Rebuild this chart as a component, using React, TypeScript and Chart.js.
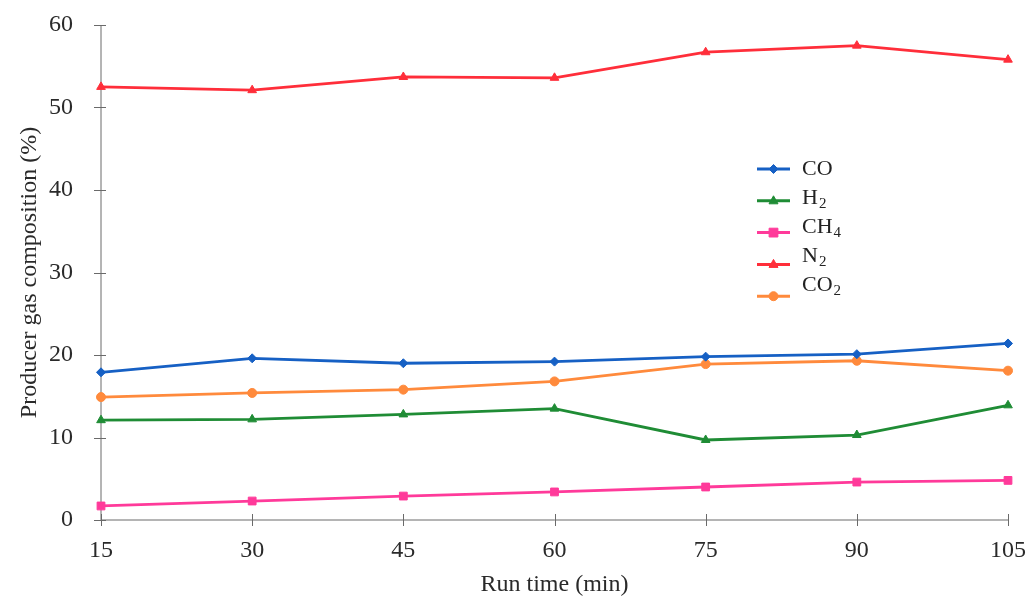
import React, { useEffect, useRef } from "react";
import { Chart, registerables } from "chart.js";

Chart.register(...registerables);

const runTimes = ["15", "30", "45", "60", "75", "90", "105"];
const coValues = [17.9, 19.6, 19.0, 19.2, 19.8, 20.1, 21.4];
const h2Values = [12.1, 12.2, 12.8, 13.5, 9.7, 10.3, 13.9];
const ch4Values = [1.7, 2.3, 2.9, 3.4, 4.0, 4.6, 4.8];
const n2Values = [52.5, 52.1, 53.7, 53.6, 56.7, 57.5, 55.8];
const co2Values = [14.9, 15.4, 15.8, 16.8, 18.9, 19.3, 18.1];
const yMin = 0;
const yMax = 60;
const yStep = 10;
const legendMain = ["CO", "H", "CH", "N", "CO"];
const legendSub = ["", "2", "4", "2", "2"];

const SERIF = "'Liberation Serif', 'Times New Roman', serif";

const axesPlugin = {
  id: "crossAxes",
  beforeDatasetsDraw(chart: any) {
    const { ctx, chartArea, scales } = chart;
    const x = scales.x;
    const y = scales.y;
    ctx.save();
    ctx.strokeStyle = "#6a6a6a";
    ctx.lineWidth = 1;
    ctx.beginPath();
    ctx.moveTo(chartArea.left, chartArea.top);
    ctx.lineTo(chartArea.left, chartArea.bottom);
    ctx.moveTo(chartArea.left, chartArea.bottom);
    ctx.lineTo(chartArea.right, chartArea.bottom);
    y.ticks.forEach((t: any) => {
      const py = Math.round(y.getPixelForValue(t.value)) + 0.5;
      ctx.moveTo(chartArea.left - 7, py);
      ctx.lineTo(chartArea.left + 5, py);
    });
    x.ticks.forEach((_t: any, i: number) => {
      const px = Math.round(x.getPixelForTick(i)) + 0.5;
      ctx.moveTo(px, chartArea.bottom - 6);
      ctx.lineTo(px, chartArea.bottom + 6);
    });
    ctx.stroke();
    ctx.restore();
  },
};

function drawMarker(ctx: CanvasRenderingContext2D, style: string, x: number, y: number, r: number) {
  ctx.beginPath();
  if (style === "rectRot") {
    ctx.moveTo(x, y - r);
    ctx.lineTo(x + r, y);
    ctx.lineTo(x, y + r);
    ctx.lineTo(x - r, y);
    ctx.closePath();
  } else if (style === "triangle") {
    ctx.moveTo(x, y - r);
    ctx.lineTo(x + r * 0.9, y + r * 0.6);
    ctx.lineTo(x - r * 0.9, y + r * 0.6);
    ctx.closePath();
  } else if (style === "rect") {
    const s = r * 0.8;
    ctx.rect(x - s, y - s, 2 * s, 2 * s);
  } else {
    ctx.arc(x, y, r, 0, Math.PI * 2);
  }
  ctx.fill();
  ctx.stroke();
}

const legendPlugin = {
  id: "insideLegend",
  afterDraw(chart: any) {
    const { ctx } = chart;
    ctx.save();
    chart.data.datasets.forEach((ds: any, i: number) => {
      const ly = 169 + i * 31.8;
      const ty = 169 + i * 29;
      ctx.strokeStyle = ds.borderColor;
      ctx.lineWidth = 3;
      ctx.beginPath();
      ctx.moveTo(757, ly);
      ctx.lineTo(790, ly);
      ctx.stroke();
      ctx.fillStyle = ds.backgroundColor;
      ctx.strokeStyle = ds.borderColor;
      ctx.lineWidth = 1;
      drawMarker(ctx, ds.pointStyle, 773.5, ly, ds.pointRadius);
      ctx.fillStyle = "#222";
      ctx.textBaseline = "middle";
      ctx.textAlign = "left";
      ctx.font = `22px ${SERIF}`;
      ctx.fillText(legendMain[i], 802, ty);
      const w = ctx.measureText(legendMain[i]).width;
      if (legendSub[i]) {
        ctx.font = `15px ${SERIF}`;
        ctx.fillText(legendSub[i], 802 + w + 1, ty + 6);
      }
    });
    ctx.restore();
  },
};

export default function App() {
  const canvasRef = useRef<HTMLCanvasElement | null>(null);

  useEffect(() => {
    document.body.style.margin = "0";
    const canvas = canvasRef.current;
    if (!canvas) return;
    const mk = (label: string, data: number[], color: string, style: string, radius: number) => ({
      label,
      data,
      borderColor: color,
      backgroundColor: color,
      pointStyle: style,
      pointRadius: radius,
      pointBorderWidth: 1,
      borderWidth: 2.8,
      tension: 0,
      fill: false,
    });
    const chart = new Chart(canvas, {
      type: "line",
      data: {
        labels: runTimes,
        datasets: [
          mk("CO", coValues, "#1660c4", "rectRot", 4.5),
          mk("H2", h2Values, "#1f8c35", "triangle", 5),
          mk("CH4", ch4Values, "#ff3a9a", "rect", 5.5),
          mk("N2", n2Values, "#ff2e3a", "triangle", 5),
          mk("CO2", co2Values, "#ff8a3c", "circle", 4.5),
        ] as any,
      },
      options: {
        responsive: false,
        animation: false,
        layout: { padding: { top: 25, right: 26, left: 0, bottom: 0 } },
        plugins: {
          legend: { display: false },
          tooltip: { enabled: false },
        },
        scales: {
          x: {
            type: "category",
            offset: false,
            grid: { display: false, drawTicks: false },
            border: { display: false },
            ticks: {
              padding: 16,
              color: "#2a2a2a",
              font: { family: SERIF, size: 24 },
              maxRotation: 0,
            },
            title: {
              display: true,
              text: "Run time (min)",
              color: "#2a2a2a",
              font: { family: SERIF, size: 24 },
              padding: { top: 0, bottom: 0 },
            },
            afterFit: (scale: any) => {
              scale.height = 79;
              scale.paddingLeft = 0;
              scale.paddingRight = 0;
            },
          },
          y: {
            min: yMin,
            max: yMax,
            grid: { display: false, drawTicks: false },
            border: { display: false },
            ticks: {
              stepSize: yStep,
              padding: 28,
              color: "#2a2a2a",
              font: { family: SERIF, size: 24 },
            },
            title: {
              display: true,
              text: "Producer gas composition (%)",
              color: "#2a2a2a",
              font: { family: SERIF, size: 24 },
              padding: { top: 15, bottom: 0 },
            },
            afterFit: (scale: any) => {
              scale.width = 101;
              scale.paddingTop = 0;
              scale.paddingBottom = 0;
            },
          },
        },
      } as any,
      plugins: [axesPlugin, legendPlugin],
    });
    return () => chart.destroy();
  }, []);

  return (
    <div style={{ position: "absolute", left: 0, top: 0, width: 1034, height: 599, background: "#fff" }}>
      <canvas ref={canvasRef} width={1034} height={599} style={{ display: "block" }} />
    </div>
  );
}
